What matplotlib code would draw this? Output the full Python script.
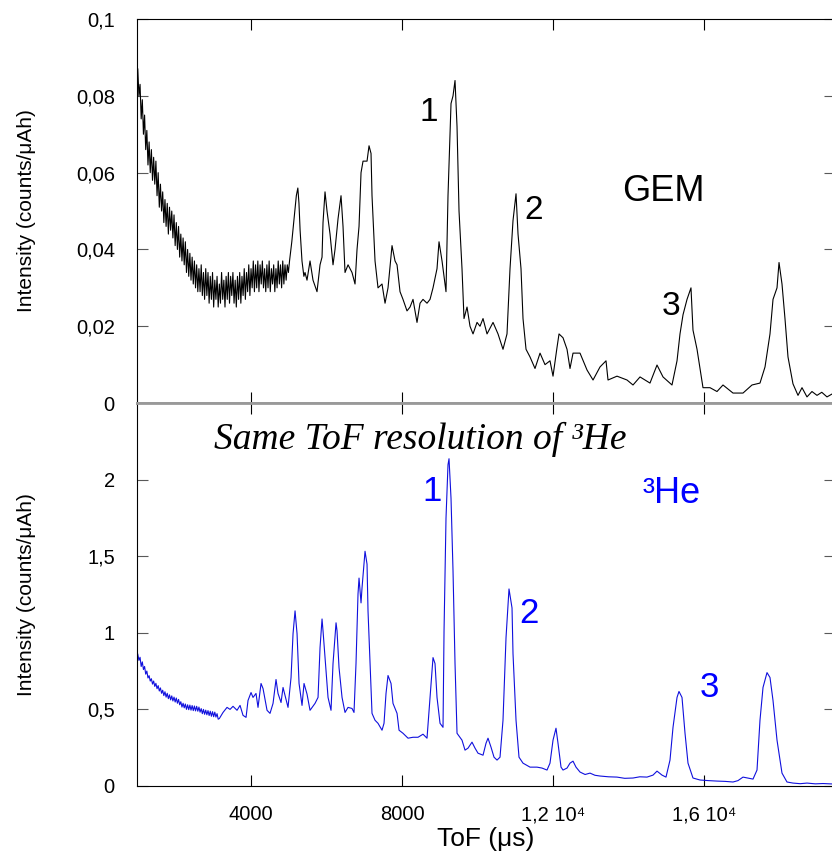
import matplotlib
matplotlib.use("Agg")
import matplotlib.pyplot as plt

plt.rcParams['font.family'] = ['Liberation Sans', 'DejaVu Sans']

# GEM detector spectrum (top panel), ToF in microseconds
gem_tof = [1000, 1030, 1060, 1090, 1120, 1150, 1180, 1210, 1240, 1270,
           1300, 1330, 1360, 1390, 1420, 1450, 1480, 1510, 1540, 1570,
           1600, 1630, 1660, 1690, 1720, 1750, 1780, 1810, 1840, 1870,
           1900, 1930, 1960, 1990, 2020, 2050, 2080, 2110, 2140, 2170,
           2200, 2230, 2260, 2290, 2320, 2350, 2380, 2410, 2440, 2470,
           2500, 2530, 2560, 2590, 2620, 2650, 2680, 2710, 2740, 2770,
           2800, 2830, 2860, 2890, 2920, 2950, 2980, 3010, 3040, 3070,
           3100, 3130, 3160, 3190, 3220, 3250, 3280, 3310, 3340, 3370,
           3400, 3430, 3460, 3490, 3520, 3550, 3580, 3610, 3640, 3670,
           3700, 3730, 3760, 3790, 3820, 3850, 3880, 3910, 3940, 3970,
           4000, 4030, 4060, 4090, 4120, 4150, 4180, 4210, 4240, 4270,
           4300, 4330, 4360, 4390, 4420, 4450, 4480, 4510, 4540, 4570,
           4600, 4630, 4660, 4690, 4720, 4750, 4780, 4810, 4840, 4870,
           4900, 4930, 4960, 4990,
           5020, 5080, 5140, 5200, 5240, 5270, 5300, 5350, 5400, 5430,
           5483, 5563, 5642, 5748, 5828, 5881, 5907, 5960, 6013, 6093,
           6172, 6225, 6305, 6384, 6437, 6490, 6570, 6675, 6755, 6808,
           6861, 6914, 6967, 7073, 7126, 7179, 7205, 7285, 7364, 7470,
           7550, 7629, 7735, 7815, 7868, 7947, 8026, 8132, 8212, 8291,
           8397, 8477, 8556, 8662, 8742, 8821, 8927, 8980, 9060, 9113,
           9165, 9218, 9298, 9351, 9404, 9457, 9510, 9589, 9642, 9722,
           9801, 9881, 9987, 10066, 10146, 10252, 10411, 10543, 10675, 10781,
           10861, 10940, 11020, 11073, 11152, 11205, 11285, 11391, 11523, 11656,
           11788, 11920, 12000, 12106, 12159, 12265, 12371, 12450, 12530, 12715,
           12901, 13060, 13245, 13404, 13457, 13695, 13960, 14119, 14305, 14569,
           14755, 14914, 15152, 15285, 15364, 15444, 15550, 15655, 15708, 15815,
           15894, 15973, 16159, 16344, 16503, 16768, 17033, 17271, 17483, 17616,
           17748, 17828, 17934, 17987, 18066, 18145, 18225, 18357, 18490, 18596,
           18728, 18860, 18993, 19120, 19258, 19400, 19500]
gem_int = [0.087, 0.080, 0.083, 0.074, 0.079, 0.070, 0.075, 0.066, 0.071, 0.062,
           0.068, 0.060, 0.066, 0.058, 0.064, 0.057, 0.063, 0.054, 0.060, 0.051,
           0.057, 0.050, 0.055, 0.047, 0.053, 0.046, 0.052, 0.044, 0.051, 0.045,
           0.050, 0.043, 0.049, 0.041, 0.047, 0.040, 0.046, 0.038, 0.044, 0.037,
           0.043, 0.036, 0.042, 0.034, 0.040, 0.033, 0.039, 0.032, 0.038, 0.031,
           0.037, 0.030, 0.036, 0.029, 0.035, 0.029, 0.036, 0.028, 0.034, 0.027,
           0.035, 0.028, 0.034, 0.026, 0.033, 0.027, 0.034, 0.025, 0.032, 0.027,
           0.033, 0.025, 0.031, 0.026, 0.034, 0.027, 0.032, 0.025, 0.033, 0.027,
           0.034, 0.026, 0.033, 0.028, 0.034, 0.026, 0.032, 0.025, 0.033, 0.027,
           0.034, 0.026, 0.033, 0.028, 0.035, 0.027, 0.034, 0.029, 0.036, 0.028,
           0.035, 0.030, 0.037, 0.029, 0.036, 0.030, 0.037, 0.029, 0.036, 0.031,
           0.037, 0.030, 0.035, 0.029, 0.036, 0.030, 0.037, 0.029, 0.035, 0.031,
           0.036, 0.029, 0.035, 0.030, 0.037, 0.031, 0.036, 0.030, 0.037, 0.031,
           0.036, 0.032, 0.036, 0.034,
           0.037, 0.042, 0.048, 0.054, 0.056, 0.052, 0.045, 0.037, 0.033, 0.034,
           0.032, 0.037, 0.032, 0.029, 0.036, 0.038, 0.047, 0.055, 0.050, 0.044,
           0.036, 0.040, 0.048, 0.054, 0.046, 0.034, 0.036, 0.034, 0.031, 0.040,
           0.046, 0.060, 0.063, 0.063, 0.067, 0.065, 0.054, 0.037, 0.030, 0.031,
           0.026, 0.030, 0.041, 0.037, 0.036, 0.029, 0.027, 0.024, 0.025, 0.027,
           0.021, 0.026, 0.027, 0.026, 0.027, 0.030, 0.035, 0.042, 0.037, 0.033,
           0.029, 0.054, 0.078, 0.080, 0.084, 0.072, 0.050, 0.035, 0.022, 0.025,
           0.020, 0.018, 0.021, 0.020, 0.022, 0.018, 0.021, 0.018, 0.014, 0.018,
           0.035, 0.0475, 0.0545, 0.044, 0.035, 0.022, 0.014, 0.012, 0.009, 0.013,
           0.010, 0.011, 0.007, 0.0145, 0.018, 0.017, 0.014, 0.009, 0.013, 0.013,
           0.0086, 0.006, 0.0094, 0.011, 0.006, 0.007, 0.006, 0.0047, 0.0068, 0.0052,
           0.0099, 0.0068, 0.0047, 0.011, 0.018, 0.023, 0.027, 0.030, 0.019, 0.014,
           0.009, 0.004, 0.004, 0.003, 0.0047, 0.0026, 0.0026, 0.0047, 0.0052, 0.0094,
           0.018, 0.027, 0.030, 0.0366, 0.031, 0.022, 0.012, 0.005, 0.002, 0.004,
           0.0016, 0.003, 0.002, 0.0028, 0.0016, 0.0024, 0.002]

# 3He detector spectrum (bottom panel)
he_tof = [1000, 1030, 1060, 1090, 1120, 1150, 1180, 1210, 1240, 1270,
          1300, 1330, 1360, 1390, 1420, 1450, 1480, 1510, 1540, 1570,
          1600, 1630, 1660, 1690, 1720, 1750, 1780, 1810, 1840, 1870,
          1900, 1930, 1960, 1990, 2020, 2050, 2080, 2110, 2140, 2170,
          2200, 2230, 2260, 2290, 2320, 2350, 2380, 2410, 2440, 2470,
          2500, 2530, 2560, 2590, 2620, 2650, 2680, 2710, 2740, 2770,
          2800, 2830, 2860, 2890, 2920, 2950, 2980, 3010, 3040, 3070,
          3100, 3130, 3160,
          3258, 3364, 3444, 3523, 3629, 3709, 3788, 3868, 3920, 4000,
          4053, 4132, 4185, 4265, 4318, 4424, 4503, 4583, 4662, 4715,
          4795, 4848, 4901, 4980, 5060, 5113, 5166, 5219, 5272, 5351,
          5404, 5483, 5563, 5695, 5775, 5828, 5881, 5907, 5987, 6040,
          6119, 6172, 6252, 6278, 6331, 6411, 6490, 6570, 6675, 6728,
          6781, 6834, 6861, 6914, 6940, 7020, 7073, 7099, 7152, 7205,
          7285, 7364, 7470, 7523, 7576, 7629, 7709, 7761, 7868, 7921,
          8026, 8159, 8291, 8424, 8556, 8662, 8742, 8821, 8874, 8927,
          9007, 9086, 9113, 9165, 9218, 9245, 9298, 9351, 9404, 9457,
          9589, 9669, 9748, 9854, 9934, 10013, 10146, 10225, 10278, 10358,
          10437, 10517, 10596, 10675, 10755, 10834, 10914, 10940, 11020, 11099,
          11205, 11391, 11576, 11708, 11841, 11920, 12000, 12079, 12132, 12212,
          12265, 12371, 12450, 12530, 12609, 12715, 12850, 12980, 13110, 13245,
          13470, 13695, 13900, 14119, 14300, 14490, 14649, 14755, 14887, 14993,
          15099, 15179, 15285, 15337, 15417, 15497, 15576, 15708, 15894, 16120,
          16344, 16560, 16768, 16900, 17033, 17298, 17404, 17483, 17563, 17669,
          17748, 17828, 17934, 18066, 18198, 18357, 18550, 18728, 18950, 19150,
          19391, 19500]
he_int = [0.86, 0.82, 0.84, 0.78, 0.81, 0.76, 0.78, 0.73, 0.75, 0.705,
          0.72, 0.685, 0.70, 0.665, 0.685, 0.65, 0.67, 0.635, 0.655, 0.62,
          0.64, 0.605, 0.625, 0.59, 0.615, 0.58, 0.605, 0.57, 0.595, 0.562,
          0.588, 0.555, 0.58, 0.548, 0.574, 0.54, 0.565, 0.53, 0.55, 0.515,
          0.54, 0.51, 0.535, 0.50, 0.53, 0.498, 0.528, 0.495, 0.525, 0.492,
          0.522, 0.49, 0.52, 0.488, 0.515, 0.482, 0.505, 0.472, 0.50, 0.468,
          0.495, 0.465, 0.492, 0.46, 0.488, 0.455, 0.485, 0.452, 0.482, 0.45,
          0.472, 0.436, 0.44,
          0.48, 0.513, 0.50, 0.52, 0.494, 0.526, 0.461, 0.448, 0.558, 0.61,
          0.578, 0.604, 0.513, 0.669, 0.636, 0.494, 0.474, 0.539, 0.695, 0.604,
          0.545, 0.643, 0.591, 0.513, 0.708, 0.994, 1.143, 0.994, 0.669, 0.526,
          0.669, 0.60, 0.494, 0.539, 0.578, 0.903, 1.09, 1.013, 0.753, 0.578,
          0.494, 0.799, 1.065, 1.013, 0.773, 0.578, 0.48, 0.513, 0.506, 0.48,
          0.799, 1.253, 1.357, 1.195, 1.292, 1.532, 1.448, 1.143, 0.799, 0.474,
          0.429, 0.409, 0.364, 0.409, 0.604, 0.721, 0.669, 0.539, 0.474, 0.364,
          0.344, 0.312, 0.318, 0.318, 0.338, 0.312, 0.578, 0.838, 0.799, 0.578,
          0.409, 0.383, 1.013, 1.747, 2.097, 2.136, 1.877, 1.403, 0.799, 0.344,
          0.299, 0.234, 0.247, 0.286, 0.247, 0.214, 0.201, 0.279, 0.312, 0.253,
          0.188, 0.169, 0.188, 0.429, 0.968, 1.286, 1.162, 0.864, 0.429, 0.188,
          0.149, 0.123, 0.123, 0.117, 0.104, 0.149, 0.299, 0.377, 0.279, 0.123,
          0.104, 0.117, 0.149, 0.162, 0.123, 0.091, 0.075, 0.084, 0.070, 0.065,
          0.060, 0.058, 0.050, 0.052, 0.060, 0.058, 0.071, 0.097, 0.071, 0.058,
          0.169, 0.383, 0.578, 0.617, 0.578, 0.344, 0.149, 0.052, 0.039, 0.035,
          0.032, 0.030, 0.026, 0.035, 0.058, 0.045, 0.104, 0.429, 0.643, 0.74,
          0.708, 0.558, 0.299, 0.084, 0.026, 0.019, 0.015, 0.019, 0.014, 0.016,
          0.013, 0.013]

gem_yticks = [0, 0.02, 0.04, 0.06, 0.08, 0.1]
gem_ylabels = ['0', '0,02', '0,04', '0,06', '0,08', '0,1']
he_yticks = [0, 0.5, 1, 1.5, 2]
he_ylabels = ['0', '0,5', '1', '1,5', '2']
xticks = [4000, 8000, 12000, 16000]
xlabels = ['4000', '8000', '1,2 10⁴', '1,6 10⁴']

fig = plt.figure(figsize=(8.32, 8.59), dpi=100)
ax1 = fig.add_axes([0.1647, 0.5308, 0.8389, 0.447])
ax2 = fig.add_axes([0.1647, 0.085, 0.8389, 0.4459])

ax1.plot(gem_tof, gem_int, color='black', lw=0.8)
ax2.plot(he_tof, he_int, color='#1010dd', lw=0.8)

for ax in (ax1, ax2):
    ax.set_xlim(980, 19470)
    ax.set_xticks(xticks)
    ax.tick_params(direction='in', length=8, top=True, bottom=True,
                   left=True, right=True, labelsize=14.5, pad=14)
    ax.tick_params(axis='y', colors='0.35', labelcolor='black', pad=16)
    ax.set_ylabel('Intensity (counts/μAh)', fontsize=15)
    ax.yaxis.set_label_coords(-0.145, 0.5)

ax1.set_ylim(0, 0.1)
ax1.set_yticks(gem_yticks)
ax1.set_yticklabels(gem_ylabels)
ax1.tick_params(labelbottom=False)
ax1.spines['bottom'].set_color('0.6')
ax1.spines['bottom'].set_linewidth(2)

ax2.set_ylim(0, 2.5)
ax2.set_yticks(he_yticks)
ax2.set_yticklabels(he_ylabels)
ax2.set_xticklabels(xlabels)
ax2.spines['top'].set_color('0.6')
ax2.spines['top'].set_linewidth(2)
ax2.set_xlabel('ToF (μs)', fontsize=19)
ax2.xaxis.set_label_coords(0.5, -0.106)

# annotations
ax1.text(8715, 0.0735, '1', fontsize=24, ha='center', va='baseline')
ax1.text(11496, 0.048, '2', fontsize=24, ha='center', va='baseline')
ax1.text(15126, 0.0229, '3', fontsize=24, ha='center', va='baseline')
ax1.text(14914, 0.0525, 'GEM', fontsize=26, ha='center', va='baseline')

ax2.text(8477, 2.20, 'Same ToF resolution of ³He', fontsize=27,
         family='Liberation Serif', style='italic', ha='center', va='baseline')
ax2.text(8794, 1.857, '1', fontsize=25, color='blue', ha='center', va='baseline')
ax2.text(11364, 1.065, '2', fontsize=25, color='blue', ha='center', va='baseline')
ax2.text(16132, 0.578, '3', fontsize=25, color='blue', ha='center', va='baseline')
ax2.text(15152, 1.844, '³He', fontsize=26, color='blue', ha='center', va='baseline')

fig.savefig('out.png', dpi=100)
